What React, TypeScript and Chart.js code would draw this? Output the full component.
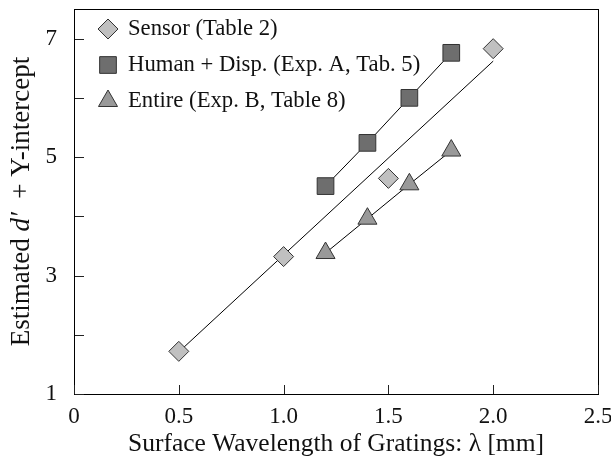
import React, { useEffect, useRef } from 'react';
import { Chart, registerables } from 'chart.js';

Chart.register(...registerables);

const sensorX = [0.5, 1.0, 1.5, 2.0];
const sensorY = [1.72, 3.32, 4.64, 6.83];
const sensorFitX = [0.5, 2.0];
const sensorFitY = [1.71, 6.62];
const humanX = [1.2, 1.4, 1.6, 1.8];
const humanY = [4.51, 5.24, 6.0, 6.76];
const entireX = [1.2, 1.4, 1.6, 1.8];
const entireY = [3.38, 3.96, 4.54, 5.11];

const xTickValues = [0, 0.5, 1.0, 1.5, 2.0, 2.5];
const xTickLabels = ['0', '0.5', '1.0', '1.5', '2.0', '2.5'];
const yTickValues = [1, 2, 3, 4, 5, 6, 7];
const yTickLabels = ['1', '', '3', '', '5', '', '7'];

const legendLabels = [
  'Sensor (Table 2)',
  'Human + Disp. (Exp. A, Tab. 5)',
  'Entire (Exp. B, Table 8)',
];
const xTitle = 'Surface Wavelength of Gratings: \u03BB [mm]';
const yTitleParts: [string, boolean][] = [
  ['Estimated ', false],
  ['d\u2032', true],
  ['  + Y-intercept', false],
];

const SERIF = "'Liberation Serif', 'Times New Roman', serif";

const markers = [
  { pointStyle: 'rectRot', radius: 10, fill: '#c0c0c0' },
  { pointStyle: 'rect', radius: 11.8, fill: '#6e6e6e' },
  { pointStyle: 'triangle', radius: 11, fill: '#999999' },
];

const pts = (xs: number[], ys: number[]) => xs.map((x, i) => ({ x, y: ys[i] }));

function markerPath(ctx: CanvasRenderingContext2D, style: string, r: number, x: number, y: number) {
  ctx.beginPath();
  if (style === 'rectRot') {
    ctx.moveTo(x - r, y);
    ctx.lineTo(x, y - r);
    ctx.lineTo(x + r, y);
    ctx.lineTo(x, y + r);
  } else if (style === 'rect') {
    const s = r * Math.SQRT1_2;
    ctx.rect(x - s, y - s, 2 * s, 2 * s);
  } else {
    const c = Math.cos(Math.PI / 6) * r;
    ctx.moveTo(x, y - r);
    ctx.lineTo(x + c, y + r / 2);
    ctx.lineTo(x - c, y + r / 2);
  }
  ctx.closePath();
}

function drawFrameAndTicks(chart: any) {
  const { ctx, chartArea: a, scales } = chart;
  ctx.save();
  const L = Math.round(a.left);
  const T = Math.round(a.top);
  const R = Math.round(a.right);
  const B = Math.round(a.bottom);
  ctx.fillStyle = '#000';
  ctx.fillRect(L, T, R - L + 1, 1);
  ctx.fillRect(L, B, R - L + 1, 1);
  ctx.fillRect(L, T, 1, B - T + 1);
  ctx.fillRect(R, T, 1, B - T + 1);
  ctx.fillStyle = '#222';
  for (const v of xTickValues) {
    const px = Math.round(scales.x.getPixelForValue(v));
    ctx.fillRect(px, B - 9, 1, 9);
  }
  for (const v of yTickValues) {
    const py = Math.round(scales.y.getPixelForValue(v));
    ctx.fillRect(L + 1, py, 9, 1);
  }
  ctx.restore();
}

export default function App() {
  const ref = useRef<HTMLCanvasElement>(null);

  useEffect(() => {
    const canvas = ref.current;
    if (!canvas) return;

    const decor = {
      id: 'decor',
      beforeDatasetsDraw(chart: any) {
        drawFrameAndTicks(chart);
      },
      afterDraw(chart: any) {
        const { ctx, chartArea: a } = chart;
        drawFrameAndTicks(chart);

        ctx.save();
        const rowY = [29, 65, 101];
        ctx.font = `22.7px ${SERIF}`;
        ctx.textBaseline = 'middle';
        ctx.textAlign = 'left';
        markers.forEach((m, i) => {
          markerPath(ctx, m.pointStyle, m.radius, 108, rowY[i]);
          ctx.fillStyle = m.fill;
          ctx.fill();
          ctx.strokeStyle = '#333';
          ctx.lineWidth = 1;
          ctx.stroke();
          ctx.fillStyle = '#111';
          ctx.fillText(legendLabels[i], 128, rowY[i]);
        });
        ctx.restore();

        ctx.save();
        const cy = (a.top + a.bottom) / 2;
        ctx.translate(22, cy);
        ctx.rotate(-Math.PI / 2);
        ctx.textBaseline = 'middle';
        ctx.textAlign = 'left';
        const fontN = `27px ${SERIF}`;
        const fontI = `italic 27px ${SERIF}`;
        let total = 0;
        for (const [t, it] of yTitleParts) {
          ctx.font = it ? fontI : fontN;
          total += ctx.measureText(t).width;
        }
        let x = -total / 2;
        ctx.fillStyle = '#111';
        for (const [t, it] of yTitleParts) {
          ctx.font = it ? fontI : fontN;
          ctx.fillText(t, x, 0);
          x += ctx.measureText(t).width;
        }
        ctx.restore();
      },
    };

    const common = {
      borderColor: '#000',
      borderWidth: 1,
      pointBorderColor: '#333',
      pointBorderWidth: 1,
      pointHoverRadius: 0,
    };

    const frameAxis = (pos: string, horizontal: boolean) => ({
      type: 'linear',
      position: pos,
      min: 0,
      max: 1,
      display: true,
      grid: { display: false, drawTicks: false },
      ticks: { display: false },
      border: { display: true, color: '#000', width: 1 },
      afterFit: (s: any) => {
        if (horizontal) s.height = 0;
        else s.width = 0;
        s.paddingTop = 0;
        s.paddingBottom = 0;
        s.paddingLeft = 0;
        s.paddingRight = 0;
      },
    });

    const chart = new Chart(canvas, {
      type: 'scatter',
      data: {
        datasets: [
          { ...common, label: legendLabels[0], data: pts(sensorX, sensorY), showLine: false, pointStyle: 'rectRot', pointRadius: markers[0].radius, pointBackgroundColor: markers[0].fill, order: 0 },
          { ...common, label: legendLabels[1], data: pts(humanX, humanY), showLine: true, pointStyle: 'rect', pointRadius: markers[1].radius, pointBackgroundColor: markers[1].fill, order: 0 },
          { ...common, label: legendLabels[2], data: pts(entireX, entireY), showLine: true, pointStyle: 'triangle', pointRadius: markers[2].radius, pointBackgroundColor: markers[2].fill, order: 0 },
          { ...common, label: 'Sensor fit', data: pts(sensorFitX, sensorFitY), showLine: true, pointRadius: 0, order: 5 },
        ],
      },
      options: {
        animation: false,
        responsive: false,
        devicePixelRatio: 1,
        events: [],
        layout: { autoPadding: false, padding: { top: 9, right: 13, left: 0, bottom: 0 } },
        plugins: { legend: { display: false }, tooltip: { enabled: false } },
        scales: {
          x: {
            type: 'linear', min: 0, max: 2.5,
            afterBuildTicks: (s: any) => { s.ticks = xTickValues.map((v) => ({ value: v })); },
            afterFit: (s: any) => { s.height = 70; s.paddingLeft = 0; s.paddingRight = 0; },
            grid: { display: false, drawTicks: false },
            border: { display: true, color: '#000', width: 1 },
            ticks: {
              color: '#111', font: { family: SERIF, size: 23 }, padding: 9, maxRotation: 0, autoSkip: false,
              callback: (v: any) => { const i = xTickValues.indexOf(Number(v)); return i >= 0 ? xTickLabels[i] : ''; },
            },
            title: { display: true, text: xTitle, color: '#111', font: { family: SERIF, size: 25.5 }, padding: { top: 0, bottom: 4 } },
          },
          y: {
            type: 'linear', min: 1, max: 7.5,
            afterBuildTicks: (s: any) => { s.ticks = yTickValues.map((v) => ({ value: v })); },
            afterFit: (s: any) => { s.width = 74; s.paddingTop = 0; s.paddingBottom = 0; },
            grid: { display: false, drawTicks: false },
            border: { display: true, color: '#000', width: 1 },
            ticks: {
              color: '#111', font: { family: SERIF, size: 23 }, padding: 17, autoSkip: false,
              callback: (v: any) => { const i = yTickValues.indexOf(Number(v)); return i >= 0 ? yTickLabels[i] : ''; },
            },
          },
          xTop: frameAxis('top', true),
          yRight: frameAxis('right', false),
        },
      },
      plugins: [decor],
    } as any);

    return () => chart.destroy();
  }, []);

  return (
    <div style={{ position: 'fixed', left: 0, top: 0, width: 611, height: 464, background: '#fff' }}>
      <canvas ref={ref} width={611} height={464} style={{ display: 'block' }} />
    </div>
  );
}
